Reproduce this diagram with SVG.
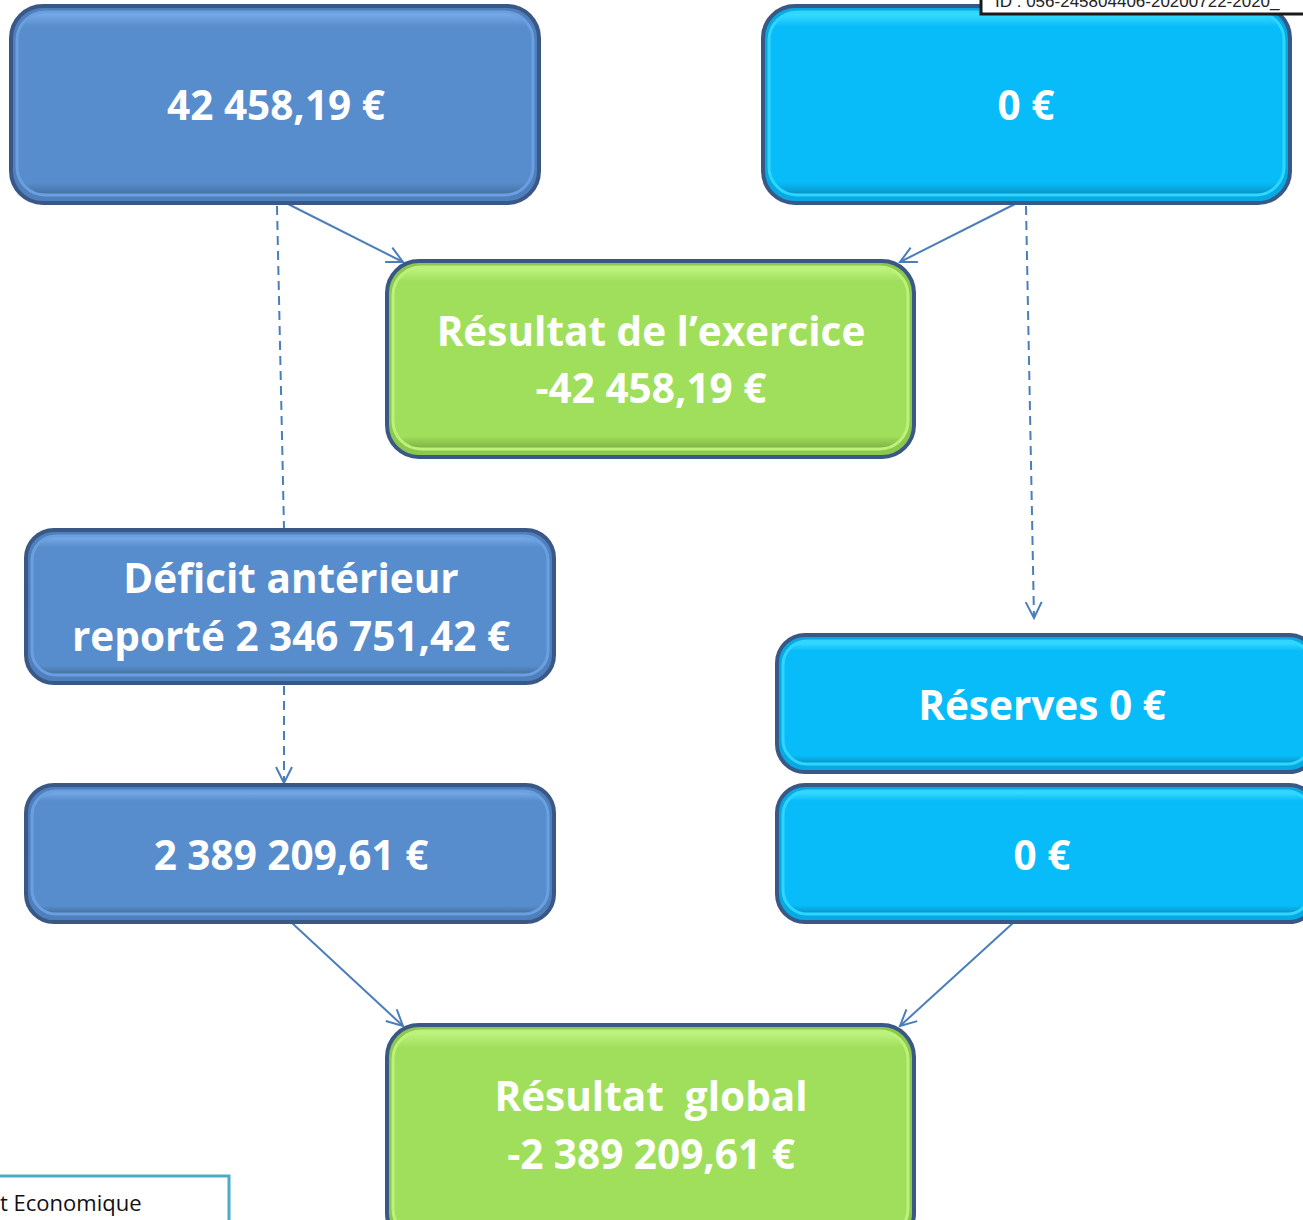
<svg xmlns="http://www.w3.org/2000/svg" width="1303" height="1220" viewBox="0 0 1303 1220">
<defs>
<style>
.t{font-family:"Open Sans","Liberation Sans",sans-serif;font-weight:700;font-size:40.5px;fill:#fff;text-anchor:middle}
.c{stroke:#4A7EBB;stroke-width:2;fill:none}
.d{stroke-dasharray:9,6}
.blue .o{fill:#4F7FBC;stroke:#3A5885;stroke-width:4}
.blue .i{fill:url(#gb);stroke:#6A9FE0;stroke-width:3}
.cyan .o{fill:#06A9E2;stroke:#3A5885;stroke-width:4}
.cyan .i{fill:url(#gc);stroke:#2FD6FF;stroke-width:3}
.green .o{fill:#8CC850;stroke:#3A5885;stroke-width:4}
.green .i{fill:url(#gg);stroke:#BDF27A;stroke-width:3}
</style>
<linearGradient id="gb" x1="0" y1="0" x2="0" y2="1">
<stop offset="0" stop-color="#7AAEEB"/><stop offset="0.08" stop-color="#588DCD"/><stop offset="0.93" stop-color="#588DCD"/><stop offset="1" stop-color="#44709F"/>
</linearGradient>
<linearGradient id="gc" x1="0" y1="0" x2="0" y2="1">
<stop offset="0" stop-color="#3FE0FF"/><stop offset="0.08" stop-color="#08BCF9"/><stop offset="0.93" stop-color="#08BCF9"/><stop offset="1" stop-color="#0791C4"/>
</linearGradient>
<linearGradient id="gg" x1="0" y1="0" x2="0" y2="1">
<stop offset="0" stop-color="#C2F584"/><stop offset="0.08" stop-color="#A0DF5B"/><stop offset="0.93" stop-color="#A0DF5B"/><stop offset="1" stop-color="#7BAE45"/>
</linearGradient>
<marker id="a" viewBox="0 0 20 20" refX="18" refY="10" markerWidth="20" markerHeight="20" markerUnits="userSpaceOnUse" orient="auto">
<path d="M2,2 L18,10 L2,18" fill="none" stroke="#4A7EBB" stroke-width="2"/>
</marker>
</defs>
<rect width="1303" height="1220" fill="#fff"/>
<g id="connectors">
<line class="c" x1="288" y1="204" x2="403" y2="262" marker-end="url(#a)"/>
<line class="c" x1="1015" y1="204" x2="900" y2="262" marker-end="url(#a)"/>
<line class="c d" x1="277" y1="206" x2="284" y2="529"/>
<line class="c d" x1="1026" y1="206" x2="1034" y2="618" marker-end="url(#a)"/>
<line class="c d" x1="284" y1="686" x2="284" y2="783" marker-end="url(#a)"/>
<line class="c" x1="292" y1="923" x2="403" y2="1026" marker-end="url(#a)"/>
<line class="c" x1="1013" y1="923" x2="900" y2="1026" marker-end="url(#a)"/>
</g>
<g id="n1" class="blue">
<rect class="o" x="11" y="6" width="528" height="197" rx="32"/>
<rect class="i" x="17" y="12" width="516" height="183" rx="28"/>
<text class="t" x="276" y="120">42 458,19 €</text>
</g>
<g id="n2" class="cyan">
<rect class="o" x="763" y="6" width="527" height="197" rx="32"/>
<rect class="i" x="769" y="12" width="515" height="183" rx="28"/>
<text class="t" x="1026" y="120">0 €</text>
</g>
<g id="n3" class="green">
<rect class="o" x="387" y="261" width="527" height="196" rx="32"/>
<rect class="i" x="393" y="267" width="515" height="182" rx="28"/>
<text class="t" x="651" y="346">Résultat de l’exercice</text>
<text class="t" x="651" y="403">-42 458,19 €</text>
</g>
<g id="n4" class="blue">
<rect class="o" x="26" y="530" width="528" height="153" rx="28"/>
<rect class="i" x="32" y="536" width="516" height="139" rx="24"/>
<text class="t" x="291" y="593">Déficit antérieur</text>
<text class="t" x="291" y="651">reporté 2 346 751,42 €</text>
</g>
<g id="n5" class="cyan">
<rect class="o" x="777" y="635" width="540" height="137" rx="28"/>
<rect class="i" x="783" y="641" width="528" height="123" rx="24"/>
<text class="t" x="1042" y="720">Réserves 0 €</text>
</g>
<g id="n6" class="blue">
<rect class="o" x="26" y="785" width="528" height="137" rx="28"/>
<rect class="i" x="32" y="791" width="516" height="123" rx="24"/>
<text class="t" x="291" y="870">2 389 209,61 €</text>
</g>
<g id="n7" class="cyan">
<rect class="o" x="777" y="785" width="540" height="137" rx="28"/>
<rect class="i" x="783" y="791" width="528" height="123" rx="24"/>
<text class="t" x="1042" y="870">0 €</text>
</g>
<g id="n8" class="green">
<rect class="o" x="387" y="1025" width="527" height="220" rx="32"/>
<rect class="i" x="393" y="1031" width="515" height="206" rx="28"/>
<text class="t" x="651" y="1111" xml:space="preserve">Résultat  global</text>
<text class="t" x="651" y="1169">-2 389 209,61 €</text>
</g>
<g id="id-label">
<rect x="981" y="-20" width="340" height="34" fill="#fff" stroke="#1a1a1a" stroke-width="3"/>
<text x="995" y="7" font-family="Liberation Sans,sans-serif" font-size="17" fill="#222">ID : 056-245804406-20200722-2020_</text>
</g>
<g id="footer-label">
<rect x="-20" y="1176" width="249" height="60" fill="#fff" stroke="#4BACC6" stroke-width="3"/>
<text x="0" y="1211" font-family="Open Sans,sans-serif" font-size="22" fill="#111">t Economique</text>
</g>
</svg>
